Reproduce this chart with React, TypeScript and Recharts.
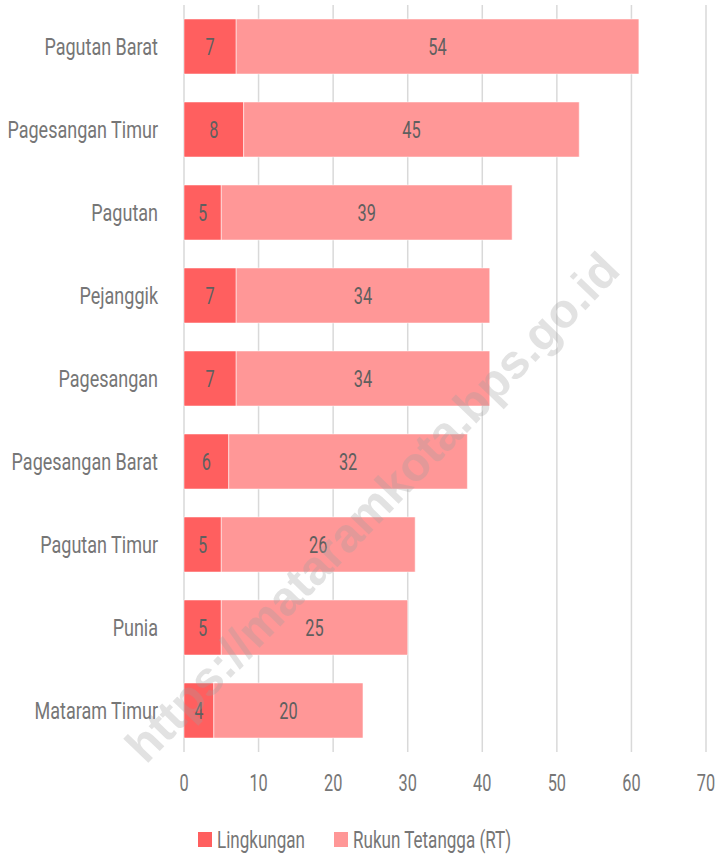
import { BarChart, Bar, XAxis, YAxis, CartesianGrid, LabelList } from 'recharts';

const kelurahan = [
    'Pagutan Barat',
    'Pagesangan Timur',
    'Pagutan',
    'Pejanggik',
    'Pagesangan',
    'Pagesangan Barat',
    'Pagutan Timur',
    'Punia',
    'Mataram Timur'
];
const lingkungan = [7, 8, 5, 7, 7, 6, 5, 5, 4];
const rukunTetangga = [54, 45, 39, 34, 34, 32, 26, 25, 20];
const xTicks = [0, 10, 20, 30, 40, 50, 60, 70];
const seriesNames = ['Lingkungan', 'Rukun Tetangga (RT)'];

const chartData = kelurahan.map((name, i) => ({
    name,
    lingkungan: lingkungan[i],
    rt: rukunTetangga[i]
}));

// no condensed font installed, so Roboto squeezed horizontally
const FONT = 'Roboto, "Noto Sans", sans-serif';
const DARK = '#ff5f5f';
const LIGHT = '#ff9797';
const GREY = '#767676';
const WORD_SX = 0.75;
const LEGEND_SX = 0.71;
const NUM_SX = 0.68;

const Squeezed = ({ x, y, sx, anchor, dy, fill, children }: any) => (
    <text
        transform={`translate(${x},${y}) scale(${sx},1)`}
        textAnchor={anchor}
        dy={dy}
        fill={fill}
        fontFamily={FONT}
        fontSize={24}
    >
        {children}
    </text>
);

const YTick = ({ x, y, payload }: any) => (
    <Squeezed x={x} y={y} sx={WORD_SX} anchor='end' dy='0.355em' fill={GREY}>{payload.value}</Squeezed>
);

const XTick = ({ x, y, payload }: any) => (
    <Squeezed x={x} y={y} sx={NUM_SX} anchor='middle' dy='0.71em' fill={GREY}>{payload.value}</Squeezed>
);

const ValueLabel = ({ x, y, width, height, value }: any) => (
    <Squeezed x={x + width / 2} y={y + height / 2} sx={NUM_SX} anchor='middle' dy='0.355em' fill='#5f5f5f'>{value}</Squeezed>
);

const App = () => {
    return (
        <div style={{ position: 'absolute', left: 0, top: 0, width: 718, height: 854, overflow: 'hidden', background: '#fff' }}>
            <BarChart
                layout='vertical'
                width={718}
                height={854}
                data={chartData}
                margin={{ top: 5, right: 12, left: 0, bottom: 40 }}
                barSize={55}
            >
                <CartesianGrid horizontal={false} stroke='#d9d9d9' strokeWidth={1.5} />
                <XAxis
                    type='number'
                    domain={[0, 70]}
                    ticks={xTicks}
                    axisLine={false}
                    tickLine={false}
                    tickSize={0}
                    tickMargin={22}
                    height={62}
                    interval={0}
                    tick={<XTick />}
                />
                <YAxis
                    type='category'
                    dataKey='name'
                    width={184}
                    axisLine={false}
                    tickLine={false}
                    tickSize={0}
                    tickMargin={26}
                    interval={0}
                    tick={<YTick />}
                />
                <Bar dataKey='lingkungan' name={seriesNames[0]} stackId='a' fill={DARK} stroke='#fff' strokeWidth={0.5} isAnimationActive={false}>
                    <LabelList dataKey='lingkungan' content={<ValueLabel />} />
                </Bar>
                <Bar dataKey='rt' name={seriesNames[1]} stackId='a' fill={LIGHT} stroke='#fff' strokeWidth={0.5} isAnimationActive={false}>
                    <LabelList dataKey='rt' content={<ValueLabel />} />
                </Bar>
            </BarChart>
            <svg width={718} height={854} style={{ position: 'absolute', left: 0, top: 0, pointerEvents: 'none' }}>
                {/* legend */}
                <rect x={198} y={832} width={14} height={15} fill={DARK} />
                <Squeezed x={217} y={839} sx={LEGEND_SX} anchor='start' dy='0.355em' fill={GREY}>{seriesNames[0]}</Squeezed>
                <rect x={334} y={832} width={14} height={15} fill={LIGHT} />
                <Squeezed x={353} y={839} sx={LEGEND_SX} anchor='start' dy='0.355em' fill={GREY}>{seriesNames[1]}</Squeezed>
                {/* watermark */}
                <text
                    x={375}
                    y={510}
                    textAnchor='middle'
                    dominantBaseline='middle'
                    transform='rotate(-46 375 510)'
                    fontFamily='"Liberation Sans", Arial, sans-serif'
                    fontWeight='bold'
                    fontSize={48}
                    fill='#a0a0a0'
                    opacity={0.3}
                >
                    https://mataramkota.bps.go.id
                </text>
            </svg>
        </div>
    );
};

export default App;
